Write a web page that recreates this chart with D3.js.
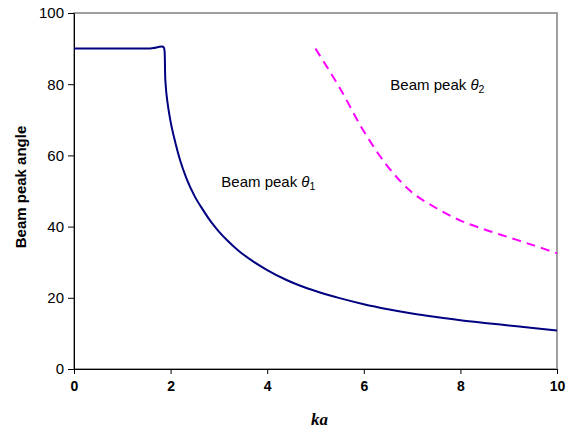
<!DOCTYPE html>
<html>
<head>
<meta charset="utf-8">
<script src="https://cdn.jsdelivr.net/npm/d3@7"></script>
<style>
  body { margin: 0; background: #fff; }
  .tick text { font-family: Arial, "Liberation Sans", sans-serif; }
</style>
</head>
<body>
<div id="chart-area"></div>
<script>
// beam peak theta1 (solid)
const ka1 = [0, 0.5, 1, 1.5, 1.65, 1.75, 1.82, 1.86, 1.876, 1.882, 1.886, 1.9, 1.925, 1.95, 2.0, 2.1, 2.2, 2.33, 2.5, 2.67, 2.85, 3.0, 3.16, 3.4, 3.7, 4.0, 4.4, 4.7, 5.0, 5.5, 6.0, 6.5, 7.0, 7.5, 8.0, 8.5, 9.0, 9.5, 10];
const theta1 = [90, 90, 90, 90, 90.15, 90.45, 90.6, 90.3, 89.2, 86.5, 83, 79.5, 76, 73.5, 69.5, 63.5, 58.5, 53.5, 48.5, 44.7, 41.1, 38.6, 36.3, 33.3, 30.3, 27.8, 25, 23.3, 21.9, 19.9, 18.2, 16.8, 15.6, 14.6, 13.7, 12.95, 12.25, 11.55, 10.8];
// beam peak theta2 (dashed)
const ka2 = [5, 5.5, 6, 6.5, 7, 7.5, 8, 8.5, 9, 9.5, 10];
const theta2 = [90, 79, 66.8, 56.8, 49.6, 45.2, 41.7, 39.2, 37, 34.8, 32.5];
const xTicks = [0, 2, 4, 6, 8, 10];
const yTicks = [0, 20, 40, 60, 80, 100];

const margin = { left: 74, right: 20, top: 13, bottom: 63 };
const width = 577 - margin.left - margin.right;
const height = 432 - margin.top - margin.bottom;

const svg = d3.select("#chart-area")
    .append("svg")
    .attr("width", 577)
    .attr("height", 432);
const g = svg.append("g")
    .attr("transform", "translate(" + margin.left + ", " + margin.top + ")");

const x = d3.scaleLinear().domain([0, 10]).range([0, width]);
const y = d3.scaleLinear().domain([0, 100]).range([height, 0]);

// plot area border
g.append("rect")
    .attr("x", 0).attr("y", 0)
    .attr("width", width).attr("height", height)
    .attr("fill", "none")
    .attr("stroke", "#808080")
    .attr("stroke-width", 1.5);

const xAxisCall = d3.axisBottom(x).tickValues(xTicks).tickSize(5).tickSizeOuter(0);
const xAxis = g.append("g")
    .attr("class", "x axis")
    .attr("transform", "translate(0, " + height + ")")
    .call(xAxisCall);
xAxis.selectAll("text")
    .attr("y", 12)
    .attr("font-size", "14px")
    .attr("font-weight", "bold")
    .attr("fill", "#000");

const yAxisCall = d3.axisLeft(y).tickValues(yTicks).tickSize(6).tickSizeOuter(0);
const yAxis = g.append("g")
    .attr("class", "y axis")
    .call(yAxisCall);
yAxis.selectAll("text")
    .attr("x", -10)
    .attr("font-size", "15px")
    .attr("fill", "#000");

g.selectAll(".axis path, .axis line").attr("stroke", "#000");

// x label
g.append("text")
    .attr("x", width / 2 + 4)
    .attr("y", height + 56)
    .attr("font-family", "'Liberation Serif', 'Times New Roman', serif")
    .attr("font-size", "17px")
    .attr("font-weight", "bold")
    .attr("font-style", "italic")
    .attr("text-anchor", "middle")
    .text("ka");

// y label
g.append("text")
    .attr("x", -(height / 2) + 4)
    .attr("y", -48)
    .attr("font-family", "Arial, 'Liberation Sans', sans-serif")
    .attr("font-size", "15px")
    .attr("font-weight", "bold")
    .attr("text-anchor", "middle")
    .attr("transform", "rotate(-90)")
    .text("Beam peak angle");

const line = d3.line()
    .x(d => x(d[0]))
    .y(d => y(d[1]));

g.append("path")
    .datum(ka1.map((k, i) => [k, theta1[i]]))
    .attr("d", line.curve(d3.curveMonotoneX))
    .attr("fill", "none")
    .attr("stroke", "#000080")
    .attr("stroke-width", 2);

g.append("path")
    .datum(ka2.map((k, i) => [k, theta2[i]]))
    .attr("d", line.curve(d3.curveCatmullRom.alpha(0.5)))
    .attr("fill", "none")
    .attr("stroke", "#FF00FF")
    .attr("stroke-width", 2)
    .attr("stroke-dasharray", "9,6");

// annotations
const notes = [
    { ka: 3.05, v: 51, sub: "1" },
    { ka: 6.55, v: 78.5, sub: "2" }
];
notes.forEach(n => {
    const t = g.append("text")
        .attr("x", x(n.ka))
        .attr("y", y(n.v))
        .attr("font-family", "Arial, 'Liberation Sans', sans-serif")
        .attr("font-size", "15px")
        .attr("fill", "#000");
    t.append("tspan").text("Beam peak ");
    t.append("tspan").attr("font-style", "italic").text("θ");
    t.append("tspan").attr("font-size", "10.5px").attr("dy", 3).text(n.sub);
});
</script>
</body>
</html>
